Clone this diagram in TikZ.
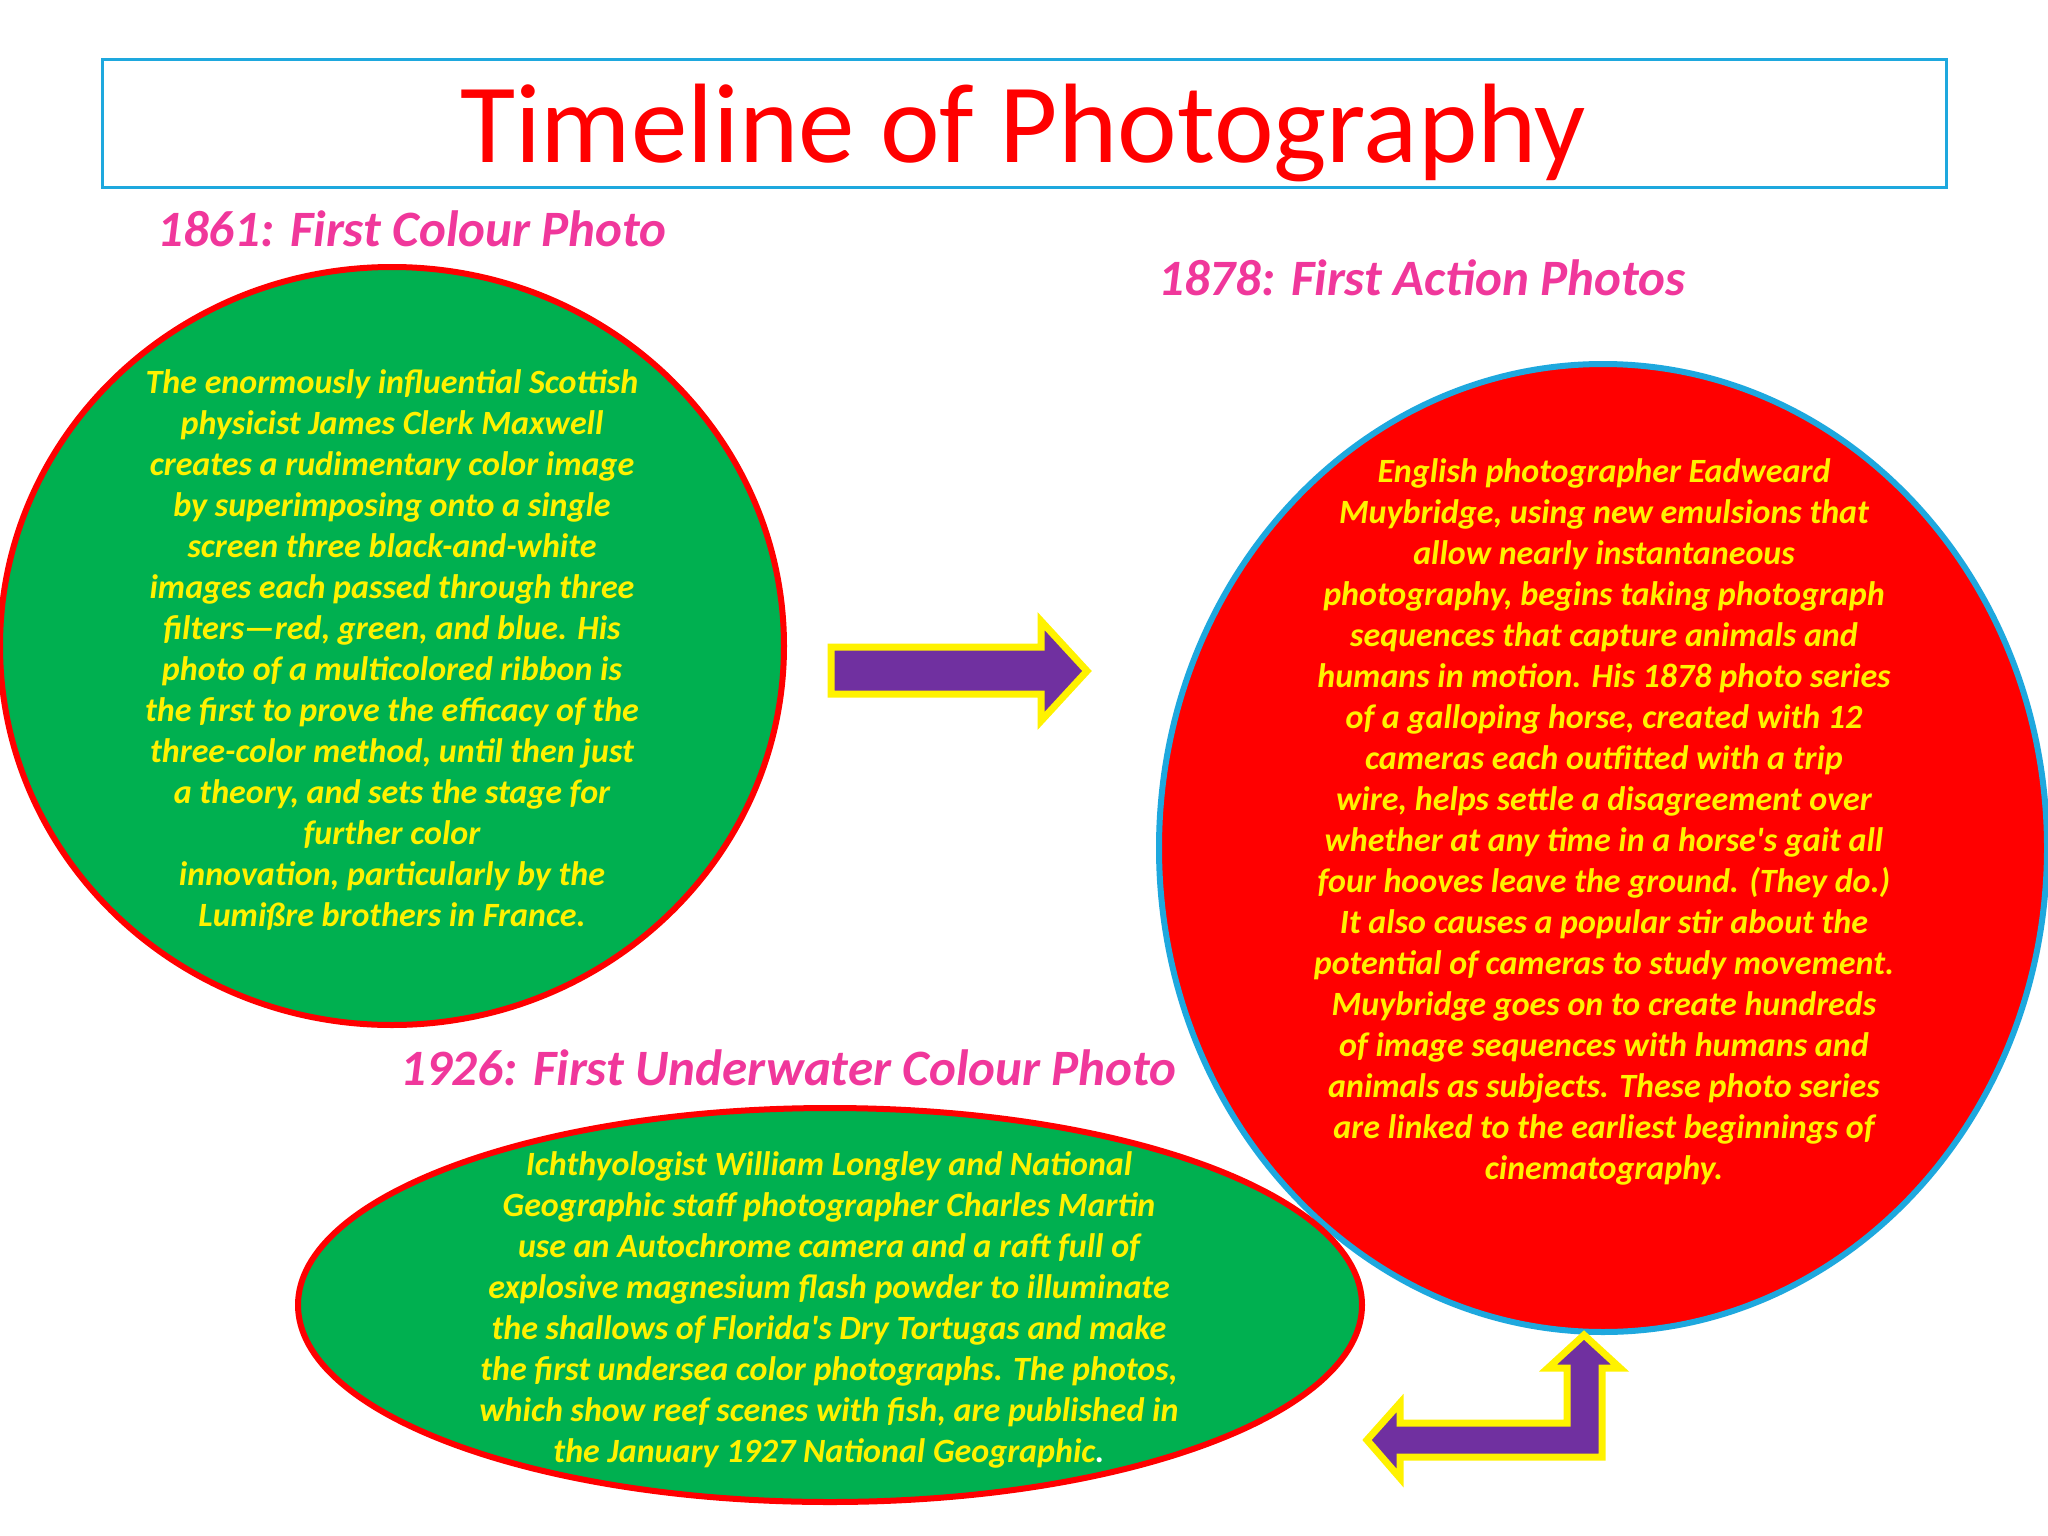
\documentclass[tikz,border=0pt]{standalone}
\usepackage{fontspec}
\setmainfont{Carlito}
\usepackage{tikz}
\usetikzlibrary{shapes.geometric}
\definecolor{headpink}{RGB}{240,55,155}
\definecolor{bubblegreen}{RGB}{0,176,80}
\definecolor{framecyan}{RGB}{30,168,222}
\definecolor{arrowpurple}{RGB}{112,48,160}

\begin{document}
\begin{tikzpicture}[x=1pt,y=-1pt]
\tikzstyle{heading}=[text=headpink,font=\bfseries\itshape\fontsize{51}{60}\selectfont,inner sep=0pt,anchor=base west]
\tikzstyle{bubble}=[ellipse,inner sep=0pt,line width=6]
\tikzstyle{blurb}=[text=yellow,font=\bfseries\itshape\fontsize{34}{41}\selectfont,align=center,inner sep=0pt]
\tikzstyle{block}=[fill=arrowpurple,draw=yellow,line width=7,line join=miter]
\useasboundingbox[fill=white] (0,0) rectangle (2048,1536);
% title
\node[draw=framecyan,line width=3,minimum width=1844,minimum height=127,inner sep=0pt] (frame) at (1024,123.5) {};
\node[text=red,font=\fontsize{113}{130}\selectfont,inner sep=0pt,anchor=base] (title) at (1023,163) {Timeline of Photography};
% headings
\foreach \name/\point/\txt in {
	colourhead/{157,246}/{1861: First Colour Photo},
	actionhead/{1158,295}/{1878: First Action Photos},
	underhead/{400,1085}/{1926: First Underwater Colour Photo}}
	\node[heading] (\name) at (\point) {\txt};
% bubbles
\node[bubble,fill=bubblegreen,draw=red,minimum width=784,minimum height=758] (colour) at (392,646) {};
\node[bubble,fill=red,draw=framecyan,minimum width=888,minimum height=968] (action) at (1603,848) {};
\node[bubble,fill=bubblegreen,draw=red,minimum width=1064,minimum height=394] (under) at (830,1305) {};
\node[blurb] (colourtext) at (392,650) {The enormously influential Scottish\\
physicist James Clerk Maxwell\\
creates a rudimentary color image\\
by superimposing onto a single\\
screen three black-and-white\\
images each passed through three\\
filters—red, green, and blue. His\\
photo of a multicolored ribbon is\\
the first to prove the efficacy of the\\
three-color method, until then just\\
a theory, and sets the stage for\\
further color\\
innovation, particularly by the\\
Lumißre brothers in France.};
\node[blurb] (actiontext) at (1604,822) {English photographer Eadweard\\
Muybridge, using new emulsions that\\
allow nearly instantaneous\\
photography, begins taking photograph\\
sequences that capture animals and\\
humans in motion. His 1878 photo series\\
of a galloping horse, created with 12\\
cameras each outfitted with a trip\\
wire, helps settle a disagreement over\\
whether at any time in a horse\textquotesingle s gait all\\
four hooves leave the ground. (They do.)\\
It also causes a popular stir about the\\
potential of cameras to study movement.\\
Muybridge goes on to create hundreds\\
of image sequences with humans and\\
animals as subjects. These photo series\\
are linked to the earliest beginnings of\\
cinematography.};
\node[blurb] (undertext) at (829,1310) {Ichthyologist William Longley and National\\
Geographic staff photographer Charles Martin\\
use an Autochrome camera and a raft full of\\
explosive magnesium flash powder to illuminate\\
the shallows of Florida\textquotesingle s Dry Tortugas and make\\
the first undersea color photographs. The photos,\\
which show reef scenes with fish, are published in\\
the January 1927 National Geographic\textcolor{white}{.}};
% arrows
\draw[block] (831,647) -- (1041,647) -- (1041,621) -- (1087,671) -- (1041,721) -- (1041,694) -- (831,694) -- cycle;
\draw[block] (1584,1335) -- (1620,1368) -- (1602,1368) -- (1602,1457) -- (1400,1457) -- (1400,1478) -- (1367,1440)
	-- (1400,1403) -- (1400,1423) -- (1567,1423) -- (1567,1368) -- (1548,1368) -- cycle;
\end{tikzpicture}
\end{document}
